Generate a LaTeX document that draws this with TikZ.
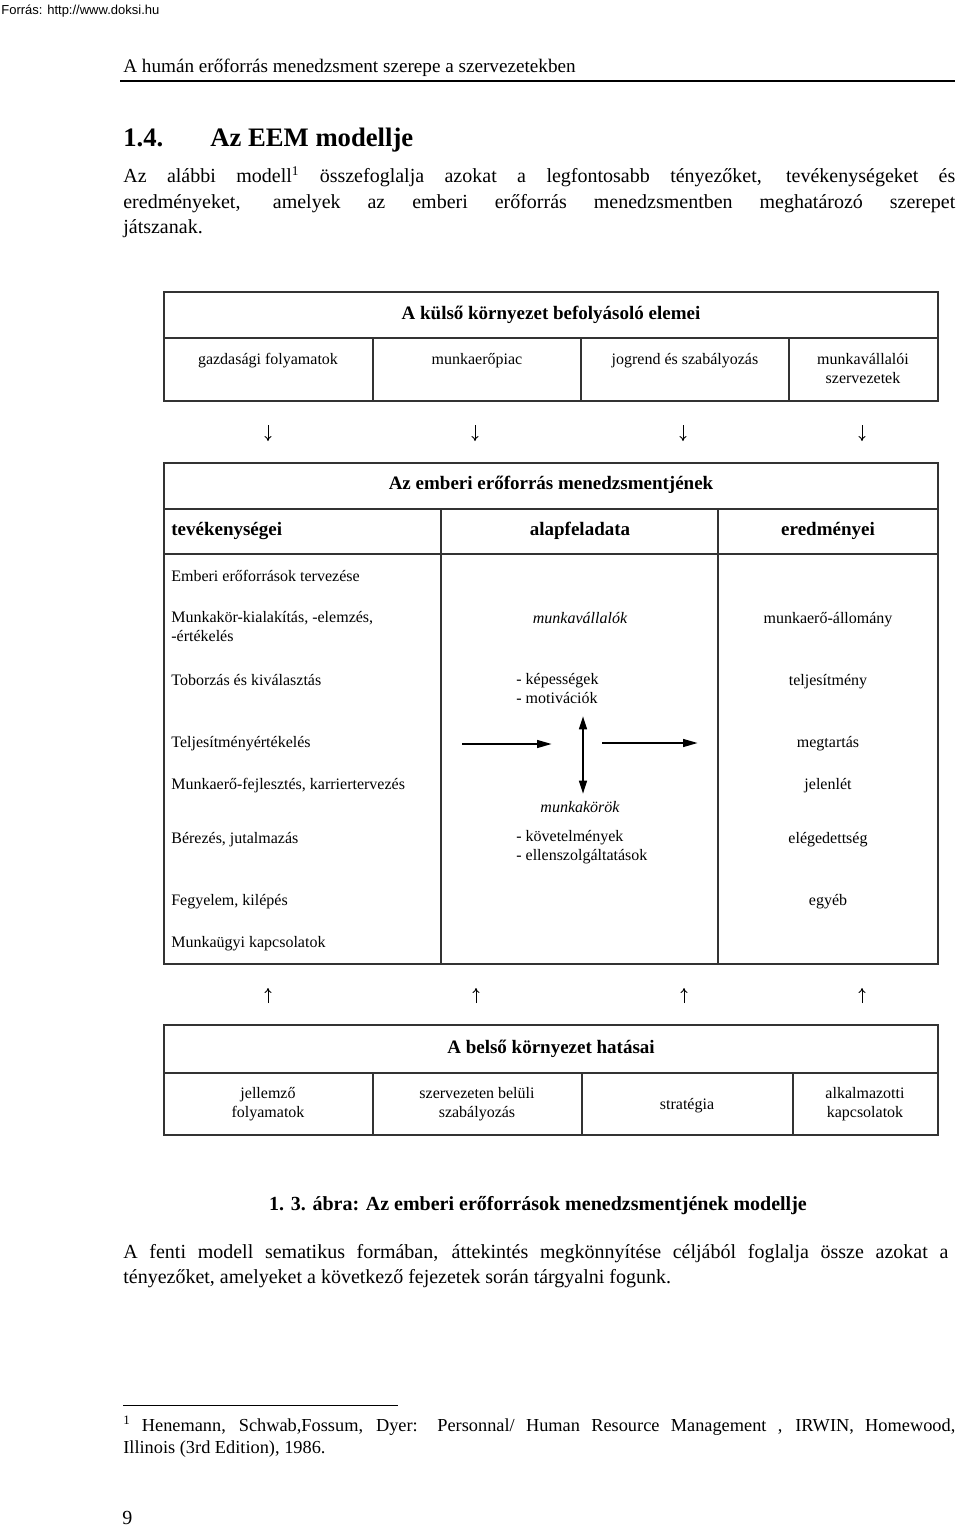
\documentclass[tikz,border=0pt]{standalone}
\usepackage{fontspec}
\setmainfont{Liberation Serif}
\newfontfamily\headsans{Liberation Sans}
\usetikzlibrary{arrows.meta}

\begin{document}
\begin{tikzpicture}[x=0.6pt,y=-0.6pt,
  rule/.style={line width=1.1pt,black!80},
  cell/.style={inner sep=0pt,font=\fontsize{9.6}{11.4}\selectfont},
  cellhead/.style={cell,font=\fontsize{11.4}{13}\selectfont\bfseries},
  bodytext/.style={inner sep=0pt,anchor=base west,font=\fontsize{12}{15.6}\selectfont},
  notetext/.style={inner sep=0pt,anchor=base west,font=\fontsize{11}{13.2}\selectfont},
  push/.style={line width=1.4pt,-{Triangle[length=9pt,width=4.6pt]}},
  pushboth/.style={line width=1.4pt,{Triangle[length=8pt,width=4.6pt]}-{Triangle[length=8pt,width=4.6pt]}},
  tick/.style={line width=.55pt,-{To[length=3pt,width=4.2pt]}}]

  \fill[white] (0,0) rectangle (960,1526);
  \useasboundingbox (0,0) rectangle (960,1526);

  % page head
  \node[inner sep=0pt,anchor=base west,font=\headsans\fontsize{7.8}{9}\selectfont] (forras) at (1,14.5) {Forrás: http://www.doksi.hu};
  \node[inner sep=0pt,anchor=base west,font=\fontsize{11.5}{13}\selectfont] (fejlec) at (123,72) {A humán erőforrás menedzsment szerepe a szervezetekben};
  \coordinate (fejA) at (120,81);
  \coordinate (fejB) at (955,81);
  \draw[line width=.8pt] (fejA) -- (fejB);

  \node[inner sep=0pt,anchor=base west,font=\fontsize{16}{19}\selectfont\bfseries] (szam) at (123,146) {1.4.};
  \node[inner sep=0pt,anchor=base west,font=\fontsize{16}{19}\selectfont\bfseries] (cim) at (210,146) {Az EEM modellje};

  \node[bodytext] (bev1) at (123,182.5) {\makebox[499.2pt][s]{Az alábbi modell\textsuperscript{1} összefoglalja azokat a legfontosabb tényezőket, tevékenységeket és}};
  \node[bodytext] (bev2) at (123,208.5) {\makebox[499.2pt][s]{eredményeket, amelyek az emberi erőforrás menedzsmentben meghatározó szerepet}};
  \node[bodytext] (bev3) at (123,233.5) {játszanak.};

  % external environment
  \draw[rule] (164,292) rectangle (938,401);
  \draw[rule] (164,338) -- (938,338);
  \foreach \x in {373,581,789}
    \draw[rule] (\x,338) -- (\x,401);
  \node[cellhead,anchor=base] (kulso) at (551,319) {A külső környezet befolyásoló elemei};
  \node[cell,anchor=base] (gazd) at (268,364) {gazdasági folyamatok};
  \node[cell,anchor=base] (piac) at (477,364) {munkaerőpiac};
  \node[cell,anchor=base] (jog) at (685,364) {jogrend és szabályozás};
  \node[cell,align=center] (szerv) at (863,368.5) {munkavállalói\\szervezetek};

  \foreach \x [count=\i] in {268,475,683,862} {
    \coordinate (kfel\i) at (\x,425);
    \coordinate (kle\i) at (\x,441);
    \draw[tick] (kfel\i) -- (kle\i);
  }

  % human resource management
  \draw[rule] (164,463) rectangle (938,964);
  \draw[rule] (164,509) -- (938,509);
  \draw[rule] (164,554) -- (938,554);
  \foreach \x in {441,718}
    \draw[rule] (\x,509) -- (\x,964);
  \node[cellhead,anchor=base] (eem) at (551,489) {Az emberi erőforrás menedzsmentjének};
  \node[cellhead,anchor=base west] (tev) at (171,535) {tevékenységei};
  \node[cellhead,anchor=base] (alap) at (580,535) {alapfeladata};
  \node[cellhead,anchor=base] (ered) at (828,535) {eredményei};

  \node[cell,anchor=base west] (tervez) at (171,581) {Emberi erőforrások tervezése};
  \node[cell,anchor=west,align=left] (munkakor) at (171,627) {Munkakör-kialakítás, -elemzés,\\-értékelés};
  \node[cell,anchor=base west] (tobor) at (171,685) {Toborzás és kiválasztás};
  \node[cell,anchor=base west] (teljert) at (171,747) {Teljesítményértékelés};
  \node[cell,anchor=base west] (fejl) at (171,789) {Munkaerő-fejlesztés, karriertervezés};
  \node[cell,anchor=base west] (berez) at (171,843) {Bérezés, jutalmazás};
  \node[cell,anchor=base west] (fegy) at (171,905) {Fegyelem, kilépés};
  \node[cell,anchor=base west] (kapcs) at (171,947) {Munkaügyi kapcsolatok};

  \node[cell,anchor=base] (mvall) at (580,623) {\itshape munkavállalók};
  \node[cell,anchor=west,align=left] (kepes) at (516,689) {- képességek\\- motivációk};
  \node[cell,anchor=base] (mkor) at (580,812) {\itshape munkakörök};
  \node[cell,anchor=west,align=left] (kovet) at (516,847) {- követelmények\\- ellenszolgáltatások};

  \coordinate (bal1) at (462,744);
  \coordinate (bal2) at (552,744);
  \coordinate (jobb1) at (602,743);
  \coordinate (jobb2) at (698,743);
  \coordinate (kozfel) at (583,716);
  \coordinate (kozle) at (583,794);
  \draw[push] (bal1) -- (bal2);
  \draw[push] (jobb1) -- (jobb2);
  \draw[pushboth] (kozfel) -- (kozle);

  \node[cell,anchor=base] (allom) at (828,623) {munkaerő-állomány};
  \node[cell,anchor=base] (telj) at (828,685) {teljesítmény};
  \node[cell,anchor=base] (megt) at (828,747) {megtartás};
  \node[cell,anchor=base] (jelen) at (828,789) {jelenlét};
  \node[cell,anchor=base] (eleg) at (828,843) {elégedettség};
  \node[cell,anchor=base] (egyeb) at (828,905) {egyéb};

  \foreach \x [count=\i] in {268,476,684,862} {
    \coordinate (blent\i) at (\x,1003);
    \coordinate (bfent\i) at (\x,988);
    \draw[tick] (blent\i) -- (bfent\i);
  }

  % internal environment
  \draw[rule] (164,1025) rectangle (938,1135);
  \draw[rule] (164,1073) -- (938,1073);
  \foreach \x in {373,582,793}
    \draw[rule] (\x,1073) -- (\x,1135);
  \node[cellhead,anchor=base] (belso) at (551,1053) {A belső környezet hatásai};
  \node[cell,align=center] (jell) at (268,1104) {jellemző\\folyamatok};
  \node[cell,align=center] (szab) at (477,1104) {szervezeten belüli\\szabályozás};
  \node[cell,anchor=base] (strat) at (687,1109) {stratégia};
  \node[cell,align=center] (alk) at (865,1104) {alkalmazotti\\kapcsolatok};

  \node[inner sep=0pt,anchor=base,font=\fontsize{12}{14}\selectfont\bfseries] (abra) at (538,1210.5) {1. 3. ábra: Az emberi erőforrások menedzsmentjének modellje};

  \node[bodytext] (ut1) at (123,1258.5) {\makebox[495pt][s]{A fenti modell sematikus formában, áttekintés megkönnyítése céljából foglalja össze azokat a}};
  \node[bodytext] (ut2) at (123,1283.5) {tényezőket, amelyeket a következő fejezetek során tárgyalni fogunk.};

  % footnote
  \coordinate (lbA) at (123,1405);
  \coordinate (lbB) at (398,1405);
  \draw[line width=.6pt] (lbA) -- (lbB);
  \node[notetext] (lab1) at (123,1431) {\makebox[499.2pt][s]{\textsuperscript{1}\ Henemann, Schwab,Fossum, Dyer: Personnal/ Human Resource Management , IRWIN, Homewood,}};
  \node[notetext] (lab2) at (123,1453) {Illinois (3rd Edition), 1986.};

  \node[inner sep=0pt,anchor=base west,font=\fontsize{12}{14}\selectfont] (oldal) at (122,1524) {9};
\end{tikzpicture}
\end{document}
